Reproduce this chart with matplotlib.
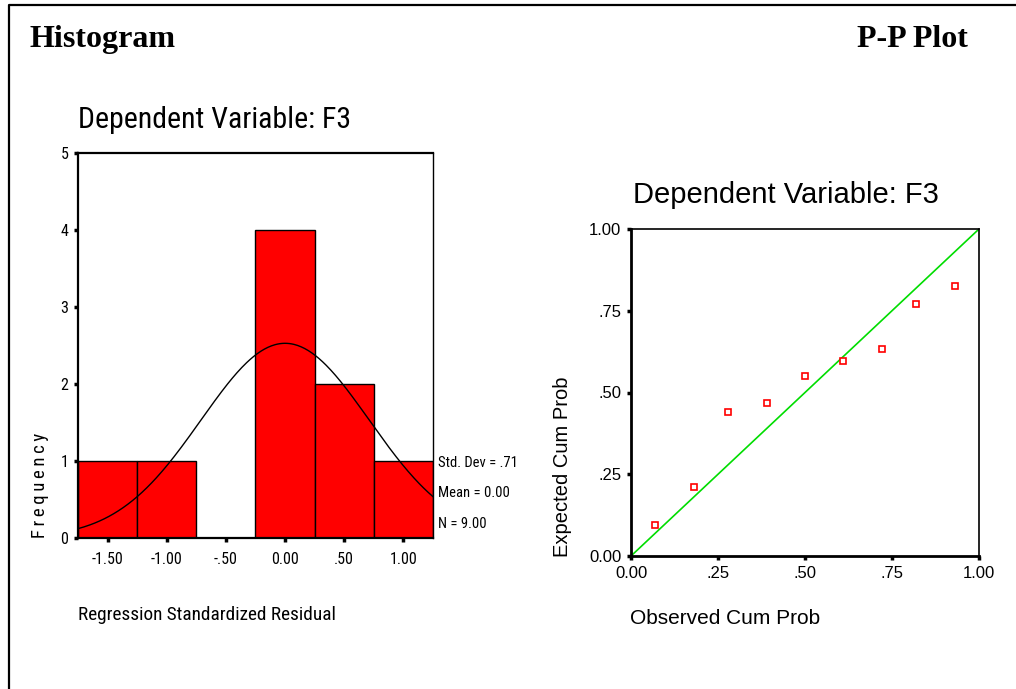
import numpy as np
import matplotlib
matplotlib.use("Agg")
import matplotlib.pyplot as plt
from matplotlib.lines import Line2D
from matplotlib import font_manager

# Histogram data (bins of width .50)
bin_centers = [-1.50, -1.00, -0.50, 0.00, 0.50, 1.00]
bin_counts = [1, 1, 0, 4, 2, 1]
bin_width = 0.50
std_dev = 0.71
mean = 0.00
n_cases = 9.00
hist_xticks = [-1.50, -1.00, -0.50, 0.00, 0.50, 1.00]
hist_xlabels = ["-1.50", "-1.00", "-.50", "0.00", ".50", "1.00"]

# P-P plot data
observed_cum = [0.07, 0.18, 0.28, 0.39, 0.50, 0.61, 0.72, 0.82, 0.93]
expected_cum = [0.096, 0.212, 0.439, 0.469, 0.550, 0.597, 0.632, 0.770, 0.825]
pp_ticks = [0.0, 0.25, 0.50, 0.75, 1.0]
pp_labels = ["0.00", ".25", ".50", ".75", "1.00"]

W, H = 1016, 689
ARIAL = ["Liberation Sans", "DejaVu Sans"]
SERIF = ["Liberation Serif", "DejaVu Serif"]

# a condensed face for the SPSS "Arial Narrow" look, if one is installed
names = {f.name for f in font_manager.fontManager.ttflist}
NARROW = ARIAL
for cand in ["Liberation Sans Narrow", "Arial Narrow", "DejaVu Sans Condensed",
             "Roboto Condensed", "Open Sans Condensed"]:
    if cand in names:
        NARROW = [cand, "DejaVu Sans"]
        break
narrow_stretch = "condensed"


def fx(px):
    return px / W


def fy(py):
    return 1 - py / H


fig = plt.figure(figsize=(W / 100, H / 100), dpi=100)

# Page frame (left and top edges only)
fig.add_artist(Line2D([fx(9), fx(9), 1.0], [0.0, fy(5), fy(5)],
                      transform=fig.transFigure, color="black", lw=1.6))

fig.text(fx(29), fy(47), "Histogram", family=SERIF, weight="bold",
         fontsize=23, ha="left", va="baseline")
fig.text(fx(968), fy(47), "P-P Plot", family=SERIF, weight="bold",
         fontsize=23, ha="right", va="baseline")

# ---------------- Histogram ----------------
ax1 = fig.add_axes([fx(78), fy(538), fx(433) - fx(78), fy(153) - fy(538)])
ax1.bar(bin_centers, bin_counts, width=bin_width, color="#ff0000",
        edgecolor="black", linewidth=1.0)

# fitted normal curve from the reported statistics
xs = np.linspace(-1.75, 1.25, 300)
scale = n_cases * bin_width / (std_dev * np.sqrt(2 * np.pi))
ax1.plot(xs, scale * np.exp(-0.5 * ((xs - mean) / std_dev) ** 2),
         color="black", lw=1.0)

ax1.set_xlim(-1.75, 1.25)
ax1.set_ylim(0, 5)
ax1.set_xticks(hist_xticks)
ax1.set_xticklabels(hist_xlabels)
ax1.set_yticks(range(6))
ax1.tick_params(direction="out", length=3, width=2.5, labelsize=11.5)
ax1.tick_params(axis="x", pad=7)
ax1.tick_params(axis="y", pad=4)
for lab in ax1.get_xticklabels() + ax1.get_yticklabels():
    lab.set_family(NARROW)
    lab.set_stretch(narrow_stretch)
for side in ["left", "bottom", "top"]:
    ax1.spines[side].set_linewidth(1.6)
ax1.spines["right"].set_linewidth(1.0)

fig.text(fx(78), fy(128), "Dependent Variable: F3", family=NARROW,
         stretch=narrow_stretch, fontsize=21.5, ha="left", va="baseline")
fig.text(fx(40), fy(485), "F\u2009r\u2009e\u2009q\u2009u\u2009e\u2009n\u2009c\u2009y",
         family=NARROW, stretch=narrow_stretch, fontsize=13.5, rotation=90,
         ha="center", va="center")
fig.text(fx(78), fy(615), "Regression Standardized Residual", family=NARROW,
         stretch=narrow_stretch, fontsize=13.9, ha="left", va="center")

stats = [("Std. Dev = .71", 463), ("Mean = 0.00", 493), ("N = 9.00", 524)]
for txt, py in stats:
    fig.text(fx(438), fy(py), txt, family=NARROW, stretch=narrow_stretch,
             fontsize=10.5, ha="left", va="center")

# ---------------- P-P plot ----------------
ax2 = fig.add_axes([fx(631), fy(556), fx(979) - fx(631), fy(229) - fy(556)])
ax2.plot([0, 1], [0, 1], color="#00dd00", lw=1.2)
ax2.plot(observed_cum, expected_cum, linestyle="none", marker="s",
         markersize=5, markerfacecolor="white", markeredgecolor="#ff0000",
         markeredgewidth=1.2)
ax2.set_xlim(0, 1)
ax2.set_ylim(0, 1)
ax2.set_xticks(pp_ticks)
ax2.set_xticklabels(pp_labels)
ax2.set_yticks(pp_ticks)
ax2.set_yticklabels(pp_labels)
ax2.tick_params(direction="out", length=3, width=2.5, pad=4, labelsize=12)
for lab in ax2.get_xticklabels() + ax2.get_yticklabels():
    lab.set_family(ARIAL)
for side in ["left", "bottom"]:
    ax2.spines[side].set_linewidth(2.0)
for side in ["top", "right"]:
    ax2.spines[side].set_linewidth(1.2)

fig.text(fx(786), fy(195), "Dependent Variable: F3", family=ARIAL,
         fontsize=21, ha="center", va="center")
fig.text(fx(562), fy(467), "Expected Cum Prob", family=ARIAL,
         fontsize=14.5, rotation=90, ha="center", va="center")
fig.text(fx(630), fy(619), "Observed Cum Prob", family=ARIAL,
         fontsize=15, ha="left", va="center")

fig.savefig("out.png", dpi=100)
